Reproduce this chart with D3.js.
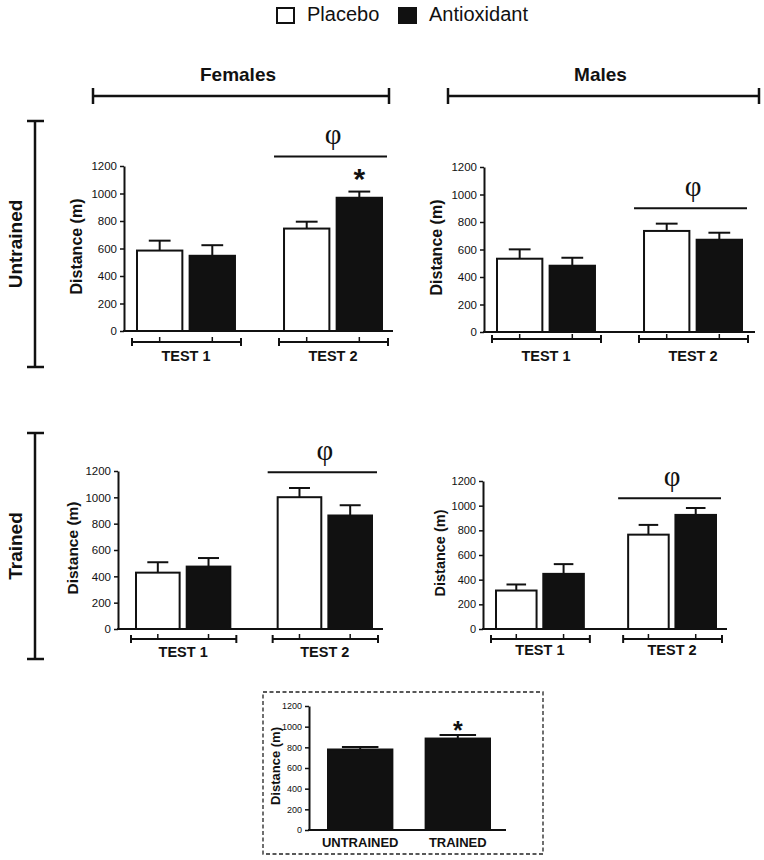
<!DOCTYPE html>
<html><head><meta charset="utf-8">
<script src="https://cdn.jsdelivr.net/npm/d3@7"></script>
<style>
body{margin:0;background:#fff}
svg{display:block}
text{font-family:"Liberation Sans", Arial, Helvetica, sans-serif;fill:#111}
</style>
</head><body>
<svg id="chart" width="764" height="860"></svg>
<script>
// ---------------- data ----------------
const seriesNames = ["Placebo", "Antioxidant"];
const testLabels = ["TEST 1", "TEST 2"];
const yTickValues = [0, 200, 400, 600, 800, 1000, 1200];

const femalesUntrainedMean = [[585, 547], [745, 969]];
const femalesUntrainedSem  = [[72, 77], [50, 45]];
const malesUntrainedMean   = [[533, 482], [735, 671]];
const malesUntrainedSem    = [[68, 58], [53, 51]];
const femalesTrainedMean   = [[428, 474], [1001, 862]];
const femalesTrainedSem    = [[79, 65], [70, 78]];
const malesTrainedMean     = [[312, 447], [765, 925]];
const malesTrainedSem      = [[49, 79], [79, 56]];

const pooledLabels = ["UNTRAINED", "TRAINED"];
const pooledMean = [779, 885];
const pooledSem  = [25, 35];

// heights (m) of the φ significance lines over TEST 2, one per panel
const phiLevels = [1270, 900, 1190, 1060];

// ---------------- layout ----------------
const svg = d3.select("#chart");
const black = "#111";

const panels = [
  {mean: femalesUntrainedMean, sem: femalesUntrainedSem, phi: phiLevels[0], star: [1, 1],
   ax: 124, axEnd: 393, b0: 136, b1: 383, yTop: 166, yBot: 331, tick: 11.5, lab: 16, labX: 76, brY: 342, testY: 361},
  {mean: malesUntrainedMean, sem: malesUntrainedSem, phi: phiLevels[1], star: null,
   ax: 484, axEnd: 755, b0: 496, b1: 743, yTop: 167, yBot: 332, tick: 11.5, lab: 16, labX: 436, brY: 339, testY: 361},
  {mean: femalesTrainedMean, sem: femalesTrainedSem, phi: phiLevels[2], star: null,
   ax: 118, axEnd: 383, b0: 135, b1: 373, yTop: 471, yBot: 629, tick: 11.5, lab: 15.5, labX: 73, brY: 639, testY: 657},
  {mean: malesTrainedMean, sem: malesTrainedSem, phi: phiLevels[3], star: null,
   ax: 483, axEnd: 727, b0: 495, b1: 717, yTop: 481, yBot: 629, tick: 11, lab: 14.5, labX: 440, brY: 639, testY: 655}
];

function drawYAxis(g, y, p) {
  const ya = g.append("g")
    .attr("transform", `translate(${p.ax},0)`)
    .call(d3.axisLeft(y).tickValues(yTickValues).tickSize(4).tickSizeOuter(0).tickPadding(3).tickFormat(d3.format("d")));
  ya.select(".domain").attr("stroke", black).attr("stroke-width", 2);
  ya.selectAll(".tick line").attr("stroke", black).attr("stroke-width", 1.5);
  ya.selectAll(".tick text").attr("font-size", p.tick).attr("fill", "#222")
    .style("font-family", '"Liberation Sans", Arial, sans-serif');
  g.append("line").attr("x1", p.ax - 1).attr("x2", p.axEnd)
    .attr("y1", y(0)).attr("y2", y(0)).attr("stroke", black).attr("stroke-width", 2);
  g.append("text")
    .attr("transform", `translate(${p.labX},${(p.yTop + p.yBot) / 2 - 2}) rotate(-90)`)
    .attr("text-anchor", "middle").attr("dy", "0.35em")
    .attr("font-weight", "bold").attr("font-size", p.lab)
    .text("Distance (m)");
}

function drawErr(g, cx, y, m, s, capW) {
  g.append("line").attr("x1", cx).attr("x2", cx).attr("y1", y(m)).attr("y2", y(m + s))
    .attr("stroke", black).attr("stroke-width", 2);
  g.append("line").attr("x1", cx - capW / 2).attr("x2", cx + capW / 2).attr("y1", y(m + s)).attr("y2", y(m + s))
    .attr("stroke", black).attr("stroke-width", 2);
}

function drawPanel(p) {
  const g = svg.append("g");
  const y = d3.scaleLinear().domain([0, 1200]).range([p.yBot, p.yTop]);
  const x0 = d3.scaleBand().domain(testLabels).range([p.b0, p.b1]).paddingInner(0.32).paddingOuter(0);
  const x1 = d3.scaleBand().domain(seriesNames).range([0, x0.bandwidth()]).paddingInner(0.1);

  drawYAxis(g, y, p);

  testLabels.forEach((t, gi) => {
    const gx = x0(t);
    seriesNames.forEach((s, si) => {
      const m = p.mean[gi][si], e = p.sem[gi][si];
      const bx = gx + x1(s), bw = x1.bandwidth();
      drawErr(g, bx + bw / 2, y, m, e, bw * 0.46);
      g.append("rect").attr("x", bx + 1).attr("y", y(m)).attr("width", bw - 2).attr("height", y(0) - y(m))
        .attr("fill", si === 0 ? "#fff" : black).attr("stroke", black).attr("stroke-width", 2);
    });
    // bracket below axis
    const bl = gx - 4, br = gx + x0.bandwidth() + 5;
    g.append("line").attr("x1", bl).attr("x2", br).attr("y1", p.brY).attr("y2", p.brY)
      .attr("stroke", black).attr("stroke-width", 2);
    [bl, br].forEach(xx => g.append("line").attr("x1", xx).attr("x2", xx)
      .attr("y1", p.brY - 4).attr("y2", p.brY + 4).attr("stroke", black).attr("stroke-width", 2));
    seriesNames.forEach(s => {
      const cx = gx + x1(s) + x1.bandwidth() / 2;
      g.append("line").attr("x1", cx).attr("x2", cx).attr("y1", p.brY - 5).attr("y2", p.brY)
        .attr("stroke", black).attr("stroke-width", 1.5);
    });
    g.append("text").attr("x", gx + x0.bandwidth() / 2).attr("y", p.testY)
      .attr("text-anchor", "middle").attr("font-weight", "bold").attr("font-size", 14.5).text(t);
  });

  // φ line over TEST 2
  const g2 = x0(testLabels[1]);
  const ly = y(p.phi);
  g.append("line").attr("x1", g2 - 9).attr("x2", g2 + x0.bandwidth() + 4).attr("y1", ly).attr("y2", ly)
    .attr("stroke", black).attr("stroke-width", 2);
  g.append("text").attr("x", g2 + x0.bandwidth() / 2).attr("y", ly - 12)
    .attr("text-anchor", "middle").attr("font-size", 29).attr("fill", black)
    .style("font-family", '"Liberation Serif", "DejaVu Serif", serif').text("φ");

  if (p.star) {
    const [gi, si] = p.star;
    const cx = x0(testLabels[gi]) + x1(seriesNames[si]) + x1.bandwidth() / 2;
    g.append("text").attr("x", cx).attr("y", y(p.mean[gi][si] + p.sem[gi][si]) - 3)
      .attr("text-anchor", "middle").attr("font-weight", "bold").attr("font-size", 30).text("*");
  }
}

panels.forEach(drawPanel);

// ---------------- pooled panel ----------------
(function () {
  const p = {ax: 309, axEnd: 506, b0: 327, b1: 491, yTop: 706, yBot: 830, tick: 9, lab: 13, labX: 275};
  const g = svg.append("g");
  g.append("rect").attr("x", 263).attr("y", 692).attr("width", 280).attr("height", 162)
    .attr("fill", "none").attr("stroke", "#222").attr("stroke-width", 1.3).attr("stroke-dasharray", "4,2.5");
  const y = d3.scaleLinear().domain([0, 1200]).range([p.yBot, p.yTop]);
  const x = d3.scaleBand().domain(pooledLabels).range([p.b0, p.b1]).paddingInner(0.32).paddingOuter(0);
  drawYAxis(g, y, p);
  pooledLabels.forEach((c, i) => {
    const bx = x(c), bw = x.bandwidth();
    drawErr(g, bx + bw / 2, y, pooledMean[i], pooledSem[i], bw * 0.55);
    g.append("rect").attr("x", bx + 1).attr("y", y(pooledMean[i])).attr("width", bw - 2)
      .attr("height", y(0) - y(pooledMean[i])).attr("fill", black).attr("stroke", black).attr("stroke-width", 2);
    g.append("text").attr("x", bx + bw / 2).attr("y", 847).attr("text-anchor", "middle")
      .attr("font-weight", "bold").attr("font-size", 13).text(c);
  });
  const ti = 1;
  g.append("text").attr("x", x(pooledLabels[ti]) + x.bandwidth() / 2).attr("y", y(pooledMean[ti] + pooledSem[ti]) + 4)
    .attr("text-anchor", "middle").attr("font-weight", "bold").attr("font-size", 25).text("*");
})();

// ---------------- legend ----------------
const legendX = [276, 398];
seriesNames.forEach((s, i) => {
  svg.append("rect").attr("x", legendX[i] + 1).attr("y", 8).attr("width", 17).attr("height", 15)
    .attr("fill", i === 0 ? "#fff" : black).attr("stroke", black).attr("stroke-width", 2);
  svg.append("text").attr("x", legendX[i] + 31).attr("y", 21).attr("font-size", 20).text(s);
});

// ---------------- column headers ----------------
const headers = [{t: "Females", x1: 93, x2: 389}, {t: "Males", x1: 448, x2: 759}];
headers.forEach(h => {
  svg.append("text").attr("x", (h.x1 + h.x2) / 2 - 3).attr("y", 81).attr("text-anchor", "middle")
    .attr("font-weight", "bold").attr("font-size", 19).text(h.t);
  svg.append("line").attr("x1", h.x1).attr("x2", h.x2).attr("y1", 96).attr("y2", 96)
    .attr("stroke", black).attr("stroke-width", 2.5);
  [h.x1, h.x2].forEach(xx => svg.append("line").attr("x1", xx).attr("x2", xx).attr("y1", 88).attr("y2", 104)
    .attr("stroke", black).attr("stroke-width", 2.5));
});

// ---------------- row headers ----------------
const rows = [{t: "Untrained", y1: 121, y2: 367}, {t: "Trained", y1: 433, y2: 659}];
rows.forEach(r => {
  svg.append("line").attr("x1", 35).attr("x2", 35).attr("y1", r.y1).attr("y2", r.y2)
    .attr("stroke", black).attr("stroke-width", 2.5);
  [r.y1, r.y2].forEach(yy => svg.append("line").attr("x1", 27).attr("x2", 44).attr("y1", yy).attr("y2", yy)
    .attr("stroke", black).attr("stroke-width", 2.5));
  svg.append("text").attr("transform", `translate(15,${(r.y1 + r.y2) / 2}) rotate(-90)`)
    .attr("text-anchor", "middle").attr("dy", "0.35em").attr("font-weight", "bold").attr("font-size", 19).text(r.t);
});
</script>
</body></html>
